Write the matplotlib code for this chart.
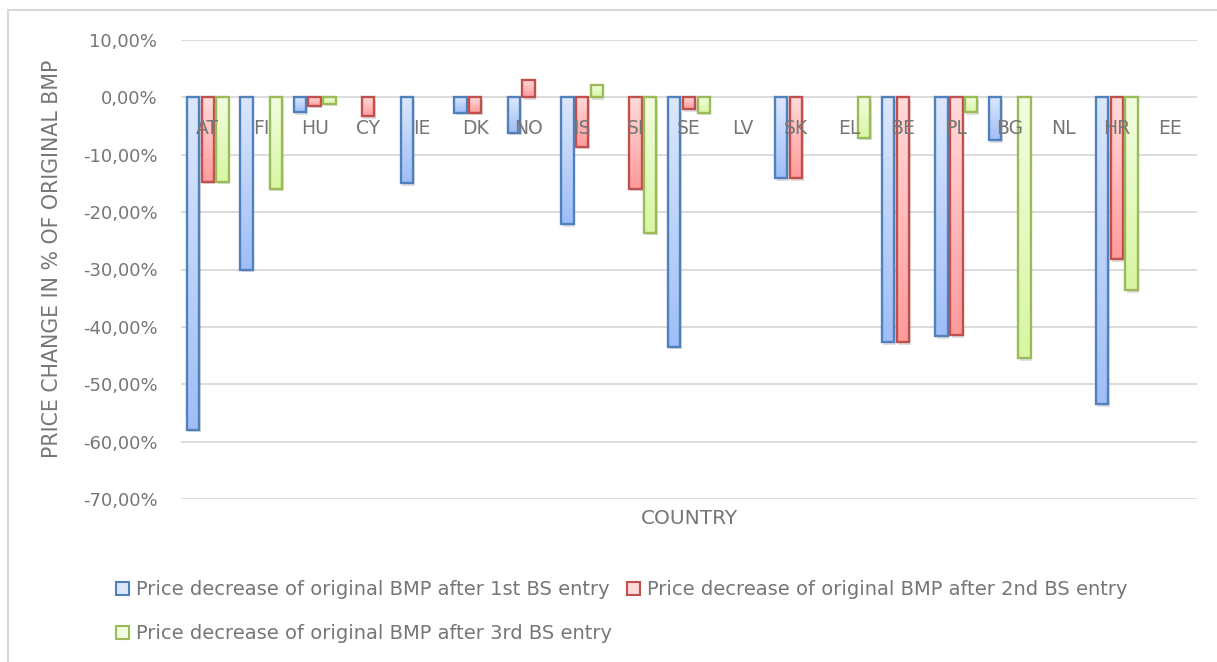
#!/usr/bin/env python3
"""Price change of the original BMP after 1st / 2nd / 3rd BS entry, per country."""
import matplotlib
matplotlib.use("Agg")
import matplotlib.pyplot as plt
import numpy as np
from matplotlib.colors import LinearSegmentedColormap
from matplotlib.patches import Patch
from matplotlib.transforms import offset_copy

plt.rcParams.update({
    "font.family": ["DejaVu Sans"],
    "font.size": 13,
})

countries = ["AT", "FI", "HU", "CY", "IE", "DK", "NO", "IS", "SI", "SE",
             "LV", "SK", "EL", "BE", "PL", "BG", "NL", "HR", "EE"]
first_entry = [-57.9, -30.0, -2.6, 0.0, -15.0, -2.7, -6.2, -22.1, 0.0, -43.5,
               0.0, -14.1, 0.0, -42.7, -41.6, -7.5, 0.0, -53.5, 0.0]
second_entry = [-14.7, 0.0, -1.5, -3.3, 0.0, -2.7, 3.0, -8.6, -15.9, -2.1,
                0.0, -14.1, 0.0, -42.7, -41.5, 0.0, 0.0, -28.2, 0.0]
third_entry = [-14.7, -15.9, -1.1, 0.0, 0.0, 0.0, 0.0, 2.1, -23.6, -2.7,
               0.0, 0.0, -7.0, 0.0, -2.6, -45.5, 0.0, -33.6, 0.0]
series_labels = ["Price decrease of original BMP after 1st BS entry",
                 "Price decrease of original BMP after 2nd BS entry",
                 "Price decrease of original BMP after 3rd BS entry"]
y_ticks = [10, 0, -10, -20, -30, -40, -50, -60, -70]

TEXT = "#767676"
GRID = "#d9d9d9"
STYLES = [
    # edge, light end, dark end
    ("#4f81bd", "#dce7fc", "#9fbef7"),
    ("#c0504d", "#ffdada", "#ff9b9b"),
    ("#9bbb59", "#f2fde0", "#d8f6a3"),
]

W, H = 1217, 662
fig = plt.figure(figsize=(W / 100, H / 100), dpi=100)
ax = fig.add_axes([181 / W, 1 - 499 / H, (1197 - 181) / W, (499 - 40) / H])

# chart frame (cut off at the right and bottom in the reference)
fig.add_artist(plt.Line2D([8 / W, 1], [1 - 10 / H] * 2, color="#d9d9d9", lw=1.5))
fig.add_artist(plt.Line2D([8 / W] * 2, [0, 1 - 10 / H], color="#d9d9d9", lw=1.5))

x = np.arange(len(countries))
step = 0.275
width = 0.232
shadow_tr = offset_copy(ax.transData, fig=fig, x=1.5, y=-2.5, units="dots")

for i, (vals, (edge, light, dark)) in enumerate(
        zip([first_entry, second_entry, third_entry], STYLES)):
    vals = np.array(vals) / 100.0
    pos = x + (i - 1) * step
    cmap = LinearSegmentedColormap.from_list(f"g{i}", [light, dark])
    ax.bar(pos, vals, width, color="black", alpha=0.13, linewidth=0,
           transform=shadow_tr, zorder=1.8)
    bars = ax.bar(pos, vals, width, facecolor="none", edgecolor=edge,
                  linewidth=1.7, zorder=3)
    for b, v in zip(bars, vals):
        if v == 0:
            continue
        x0, w = b.get_x(), b.get_width()
        grad = np.linspace(0, 1, 128).reshape(-1, 1)
        im = ax.imshow(grad, extent=[x0, x0 + w, min(0, v), max(0, v)],
                       origin="upper", cmap=cmap, aspect="auto", zorder=2,
                       interpolation="bilinear")
        im.set_clip_path(b)

# empty cells draw nothing
for c in ax.containers:
    for b in c:
        if b.get_height() == 0:
            b.set_visible(False)

ax.set_xlim(-0.5, len(countries) - 0.5)
ax.set_ylim(-0.70, 0.10)
ax.set_aspect("auto")
ax.set_yticks([t / 100 for t in y_ticks])
ax.set_yticklabels([f"{t:.2f}%".replace(".", ",") for t in y_ticks],
                   color=TEXT)
ax.tick_params(axis="y", length=0, pad=17)
ax.set_xticks([])
ax.grid(axis="y", color=GRID, linewidth=1.3, zorder=0)
ax.set_axisbelow(True)
for s in ax.spines.values():
    s.set_visible(False)

# category labels sit just below the zero line, drawn over the bars
lab_tr = offset_copy(ax.transData, fig=fig, y=-31, units="dots")
for xi, c in zip(x, countries):
    ax.text(xi, 0, c, transform=lab_tr, ha="center", va="center",
            color=TEXT, fontsize=13.5, zorder=5)

fig.text(689 / W, 1 - 519 / H, "COUNTRY", ha="center", va="center",
         color=TEXT, fontsize=14.5)
fig.text(52 / W, 1 - 259 / H, "PRICE CHANGE IN % OF ORIGINAL BMP",
         rotation=90, ha="center", va="center", color=TEXT, fontsize=14.8)

handles = [Patch(facecolor=light, edgecolor=edge, linewidth=1.5)
           for edge, light, _ in STYLES]
order = [0, 2, 1]
fig.legend([handles[k] for k in order], [series_labels[k] for k in order],
           ncol=2, loc="upper left", bbox_to_anchor=(116 / W, 1 - 580 / H),
           frameon=False, handlelength=0.65, handleheight=0.65,
           handletextpad=0.4, labelspacing=1.3, columnspacing=0.75,
           fontsize=14, labelcolor=TEXT, borderpad=0, borderaxespad=0)

fig.savefig("out.png", dpi=100)
